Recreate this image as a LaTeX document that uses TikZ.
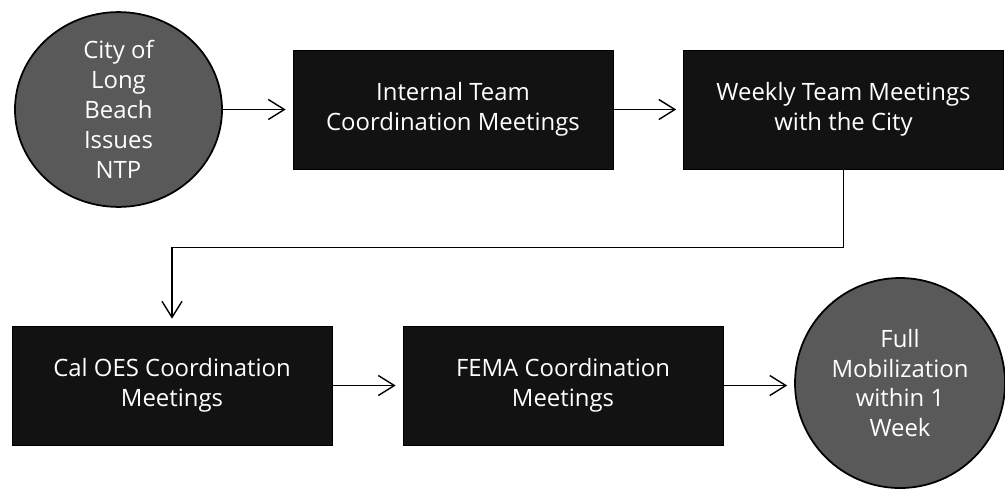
\documentclass[tikz,border=0pt]{standalone}
\usepackage{fontspec}
\setmainfont{Open Sans}
\usetikzlibrary{shapes.geometric,arrows.meta}

\begin{document}
\begin{tikzpicture}[
    box/.style={draw=black, fill=black!93, text=white, minimum width=6.4cm, minimum height=2.38cm,
        align=center, inner sep=0pt, font=\fontsize{13.6}{17}\selectfont},
    bubble/.style={ellipse, draw=black, line width=1pt, fill=black!65, text=white, inner sep=0pt,
        align=center, font=\fontsize{13.6}{17}\selectfont},
    flow/.style={line width=0.8pt, -{Straight Barb[length=3.2mm, width=4mm, line width=0.8pt]},
        shorten >=0.14cm}
]
    \useasboundingbox (0, 0) rectangle (20.1, -9.78);

    % Top row
    \node[bubble, minimum width=4.14cm, minimum height=3.86cm] (ntp) at (2.37, -2.19)
        {City of\\Long\\Beach\\Issues\\NTP};
    \node[box] (internal) at (9.06, -2.19) {Internal Team\\Coordination Meetings};
    \node[box] (weekly) at (16.87, -2.19) {Weekly Team Meetings\\with the City};

    % Bottom row
    \node[box] (caloes) at (3.44, -7.71) {Cal OES Coordination\\Meetings};
    \node[box] (fema) at (11.26, -7.71) {FEMA Coordination\\Meetings};
    \node[bubble, minimum width=4.2cm, minimum height=4.2cm] (full) at (18.0, -7.66)
        {Full\\Mobilization\\within 1\\Week};

    % Arrows
    \draw[flow] (ntp.east) -- (internal.west);
    \draw[flow] (internal.east) -- (weekly.west);
    \draw[flow] (weekly.south) -- ++(0, -1.56) -| (caloes.north);
    \draw[flow] (caloes.east) -- (fema.west);
    \draw[flow] (fema.east) -- (fema.east -| full.west);
\end{tikzpicture}
\end{document}
